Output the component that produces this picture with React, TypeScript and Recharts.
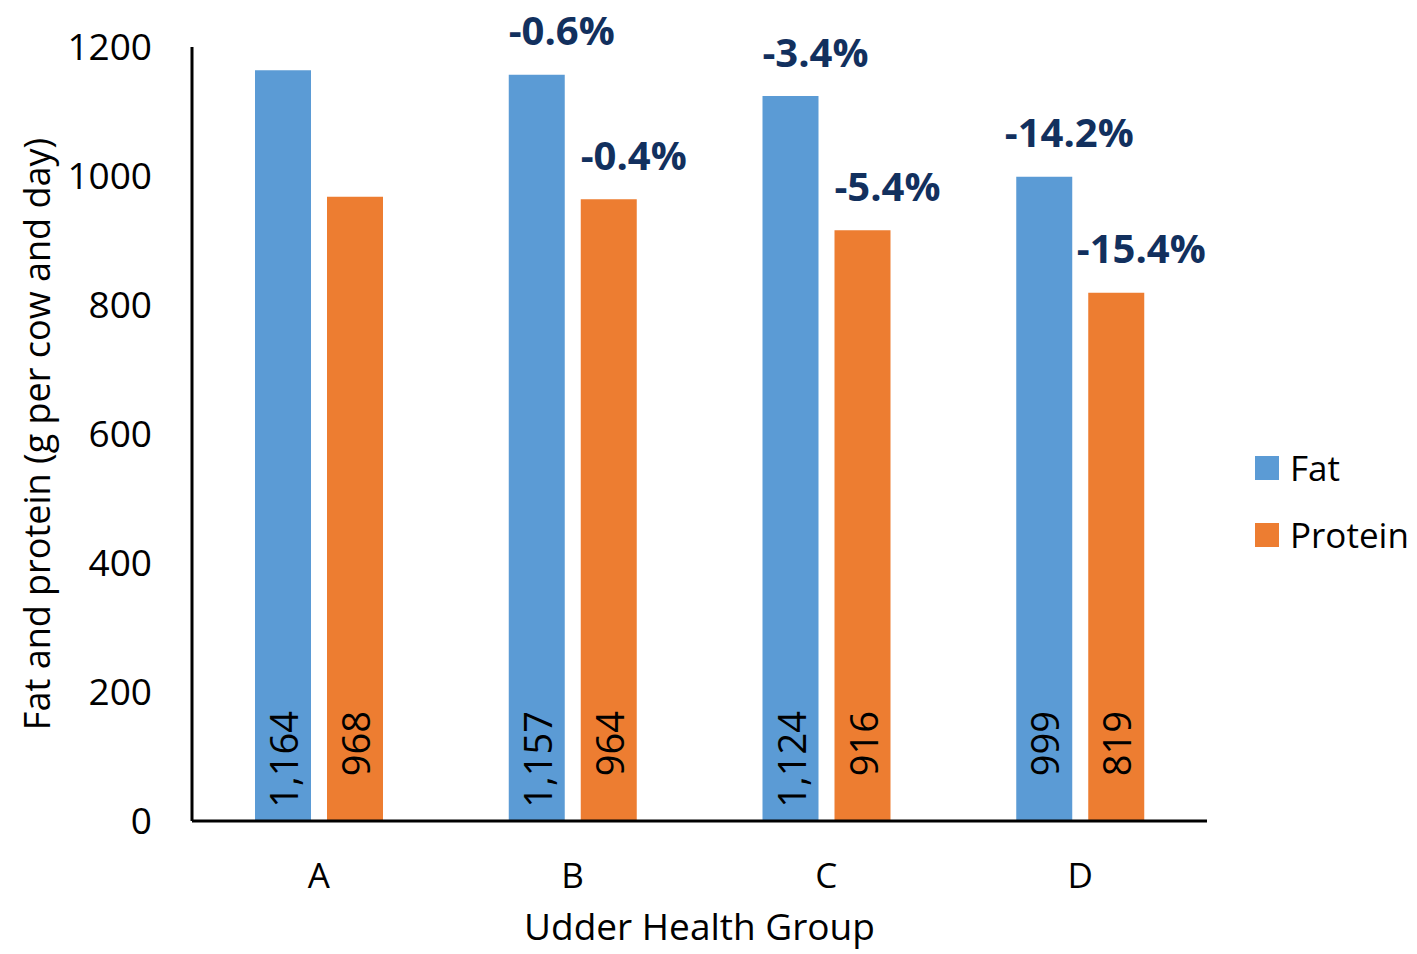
import React from "react";
import { BarChart, Bar, XAxis, YAxis, Legend, LabelList } from "recharts";

const groups = ["A", "B", "C", "D"];
const fatValues = [1164, 1157, 1124, 999];
const proteinValues = [968, 964, 916, 819];
const fatChange = ["", "-0.6%", "-3.4%", "-14.2%"];
const proteinChange = ["", "-0.4%", "-5.4%", "-15.4%"];
const yTicks = [0, 200, 400, 600, 800, 1000, 1200];

const FONT = "'Open Sans', sans-serif";
const FAT_COLOR = "#5B9BD5";
const PROTEIN_COLOR = "#ED7D31";
const CHANGE_COLOR = "#12305E";

const data = groups.map((g, i) => ({
  group: g,
  fat: fatValues[i],
  protein: proteinValues[i],
  fatChange: fatChange[i],
  proteinChange: proteinChange[i],
}));

const fmt = (v: number) => v.toLocaleString("en-US");

// value written upwards inside the bar, near its base
function InsideValue(props: any) {
  const { x, y, width, height, value } = props;
  const cx = x + width / 2;
  const top = y + height - 110;
  return (
    <text
      x={cx}
      y={top}
      transform={`rotate(-90, ${cx}, ${top})`}
      textAnchor="end"
      dominantBaseline="central"
      fontSize={38}
      fontFamily={FONT}
      fill="#000"
    >
      {fmt(value)}
    </text>
  );
}

function ChangeLabel(props: any) {
  const { x, y, width, value } = props;
  if (!value) return null;
  return (
    <text
      x={x + width / 2 + 25}
      y={y - 45}
      textAnchor="middle"
      dominantBaseline="central"
      fontSize={40}
      fontWeight={700}
      fontFamily={FONT}
      fill={CHANGE_COLOR}
    >
      {value}
    </text>
  );
}

function LegendBox() {
  const items = [
    { name: "Fat", color: FAT_COLOR },
    { name: "Protein", color: PROTEIN_COLOR },
  ];
  return (
    <div style={{ fontFamily: FONT, fontSize: 35, color: "#000" }}>
      {items.map((it) => (
        <div key={it.name} style={{ display: "flex", alignItems: "center", height: 67 }}>
          <span style={{ width: 24, height: 24, background: it.color, marginRight: 11 }} />
          <span>{it.name}</span>
        </div>
      ))}
    </div>
  );
}

export default function App() {
  return (
    <div style={{ position: "absolute", left: 0, top: 0 }}>
      <BarChart
        width={1417}
        height={954}
        data={data}
        margin={{ top: 47, right: 48, bottom: 0, left: 0 }}
        barSize={56}
        barGap={16}
        style={{ fontFamily: FONT }}
      >
        <XAxis
          dataKey="group"
          axisLine={{ stroke: "#000", strokeWidth: 3 }}
          tickLine={false}
          tick={{ fill: "#000", fontSize: 35, fontFamily: FONT }}
          tickMargin={36}
          height={133}
          label={{
            value: "Udder Health Group",
            position: "insideBottom",
            offset: 0,
            dy: -14,
            fill: "#000",
            fontSize: 37,
            fontFamily: FONT,
          }}
        />
        <YAxis
          domain={[0, 1200]}
          ticks={yTicks}
          interval={0}
          width={192}
          axisLine={{ stroke: "#000", strokeWidth: 3 }}
          tickLine={false}
          tickSize={0}
          tickMargin={40}
          tick={{ fill: "#000", fontSize: 37, fontFamily: FONT }}
          label={(p: any) => {
            const vb = p.viewBox;
            const cy = vb.y + vb.height / 2;
            return (
              <text
                x={36}
                y={cy}
                transform={`rotate(-90, 36, ${cy})`}
                textAnchor="middle"
                dominantBaseline="central"
                fontSize={36}
                fontFamily={FONT}
                fill="#000"
              >
                Fat and protein (g per cow and day)
              </text>
            );
          }}
        />
        <Legend
          layout="vertical"
          align="right"
          verticalAlign="middle"
          width={162}
          wrapperStyle={{ left: 1255, top: 434 }}
          content={() => <LegendBox />}
        />
        <Bar dataKey="fat" name="Fat" fill={FAT_COLOR} isAnimationActive={false}>
          <LabelList dataKey="fat" content={InsideValue} />
          <LabelList dataKey="fatChange" content={ChangeLabel} />
        </Bar>
        <Bar dataKey="protein" name="Protein" fill={PROTEIN_COLOR} isAnimationActive={false}>
          <LabelList dataKey="protein" content={InsideValue} />
          <LabelList dataKey="proteinChange" content={ChangeLabel} />
        </Bar>
      </BarChart>
    </div>
  );
}
